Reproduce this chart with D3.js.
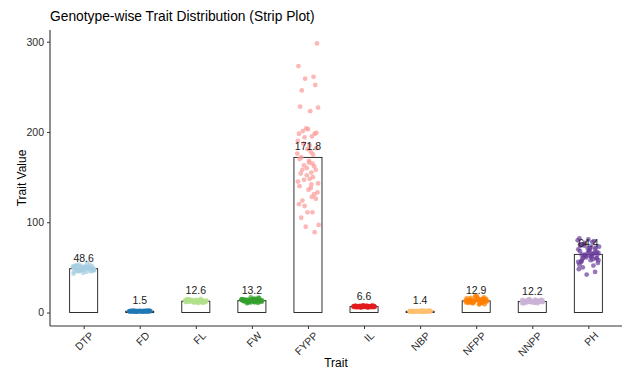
<!DOCTYPE html>
<html>
<head>
<meta charset="utf-8">
<script src="https://cdn.jsdelivr.net/npm/d3@7"></script>
<style>
  html, body { margin: 0; padding: 0; background: #fff; }
  svg { display: block; font-family: "Liberation Sans", Arial, sans-serif; }
</style>
</head>
<body>
<svg id="chart" width="623" height="371"></svg>
<script>
// ---- data ----
const traits = ["DTP", "FD", "FL", "FW", "FYPP", "IL", "NBP", "NFPP", "NNPP", "PH"];
const traitMeans = [48.6, 1.5, 12.6, 13.2, 171.8, 6.6, 1.4, 12.9, 12.2, 64.4];
const traitColors = ["#a6cee3", "#1f78b4", "#b2df8a", "#33a02c", "#fb9a99",
                     "#e31a1c", "#fdbf6f", "#ff7f00", "#cab2d6", "#6a3d9a"];

const dtpValues = [47, 49, 51, 46, 50, 48, 52, 45, 49, 47, 53, 50, 48, 46, 51, 49, 44, 50, 52, 47, 48, 49, 51, 46,
                   50, 48, 55, 47, 49, 45, 50, 52, 48, 46, 49, 51, 47, 50, 48, 53, 46, 49, 50, 47, 51, 43, 48, 50];
const fdValues = [1.4, 1.6, 1.2, 1.8, 1.5, 1.3, 1.7, 1.5, 1.1, 1.9, 1.4, 1.6, 1.5, 1.2, 1.8, 1.3, 1.6, 1.4, 1.7, 1.5,
                  1.0, 2.0, 1.5, 1.4, 1.6, 1.3, 1.7, 1.5, 1.2, 1.8, 1.4, 1.6, 1.5, 1.3, 1.7, 1.5, 1.1, 1.9, 1.4, 1.6,
                  1.5, 1.2, 1.8, 1.4, 1.6, 1.5, 1.3, 1.7];
const flValues = [12.5, 13.1, 11.8, 14.0, 12.2, 13.5, 11.2, 12.9, 13.8, 12.0, 11.5, 14.5, 12.7, 13.0, 12.3, 11.9,
                  13.6, 12.4, 10.8, 14.2, 12.8, 13.3, 11.6, 12.1, 13.9, 12.6, 11.0, 14.8, 12.5, 13.2, 12.0, 11.7,
                  13.4, 12.9, 10.5, 15.2, 12.3, 13.7, 11.4, 12.6, 14.1, 12.2, 11.8, 13.0, 12.7, 13.5, 11.3, 12.8];
const fwValues = [13.0, 14.1, 12.2, 15.0, 12.8, 13.9, 11.5, 13.4, 14.6, 12.5, 11.0, 15.8, 13.2, 13.7, 12.9, 12.0,
                  14.3, 13.1, 10.2, 16.4, 13.5, 14.0, 12.3, 12.7, 14.8, 13.3, 11.3, 15.5, 13.0, 13.8, 12.6, 12.1,
                  14.4, 13.6, 10.6, 16.9, 12.9, 14.2, 11.8, 13.2, 15.1, 12.4, 11.7, 13.9, 13.4, 14.5, 11.4, 13.1];
const fyppValues = [298, 273, 261, 259, 252, 246, 223, 228, 227, 204, 203, 201, 198, 198, 195, 194, 199, 190, 185, 181,
                    178, 175, 172, 170, 168, 165, 163, 162, 160, 158, 158, 155, 152, 150, 148, 147, 145, 143, 140, 138,
                    136, 133, 131, 128, 126, 124, 120, 118, 111, 111, 105, 97, 95, 89, 176, 182, 166, 154, 142, 187];
const ilValues = [6.5, 7.0, 6.2, 7.4, 6.8, 6.0, 7.2, 6.6, 5.6, 7.8, 6.4, 6.9, 6.3, 7.1, 6.7, 5.8, 7.5, 6.5, 6.1, 7.3,
                  6.9, 6.2, 7.0, 6.6, 5.4, 8.0, 6.4, 6.8, 6.3, 7.2, 6.7, 5.9, 7.6, 6.5, 6.0, 7.1, 6.8, 6.3, 6.9, 6.6,
                  5.7, 7.7, 6.4, 6.8, 6.2, 7.0, 6.6, 6.5];
const nbpValues = [1.4, 1.6, 1.2, 1.8, 1.3, 1.5, 1.1, 1.7, 1.4, 1.0, 2.0, 1.3, 1.5, 1.6, 1.2, 1.4, 0.8, 2.2, 1.5, 1.3,
                   1.7, 1.4, 1.1, 1.6, 1.3, 1.5, 0.9, 2.1, 1.4, 1.2, 1.8, 1.5, 1.3, 1.6, 1.4, 1.0, 1.9, 1.4, 1.3, 1.5,
                   1.2, 1.7, 1.4, 1.1, 1.6, 1.3, 1.5, 1.4];
const nfppValues = [12.8, 14.2, 11.5, 15.6, 12.1, 13.6, 10.4, 13.1, 16.8, 11.9, 9.6, 17.9, 12.5, 14.0, 12.9, 11.2,
                    15.0, 12.7, 8.8, 18.6, 13.3, 14.5, 11.0, 12.3, 16.1, 13.0, 10.1, 17.2, 12.6, 13.8, 12.2, 11.6,
                    15.3, 13.4, 9.2, 16.5, 12.4, 14.7, 10.8, 13.2, 15.8, 12.0, 11.3, 14.1, 12.9, 13.7, 10.7, 12.8];
const nnppValues = [12.1, 12.8, 11.4, 13.6, 11.9, 13.0, 10.8, 12.5, 13.9, 11.6, 10.4, 14.4, 12.2, 12.9, 12.0, 11.3,
                    13.3, 12.4, 10.1, 14.8, 12.6, 13.1, 11.1, 11.8, 13.7, 12.3, 10.6, 14.1, 12.0, 12.7, 11.7, 11.5,
                    13.4, 12.5, 10.2, 14.6, 11.9, 13.2, 11.0, 12.2, 13.8, 11.6, 11.2, 12.9, 12.4, 13.0, 10.9, 12.1];
const phValues = [64, 70, 58, 75, 62, 68, 55, 66, 78, 60, 50, 82, 63, 71, 65, 57, 73, 61, 45, 80, 67, 69, 56, 62,
                  76, 64, 48, 79, 63, 72, 59, 58, 74, 66, 42, 81, 61, 70, 53, 65, 77, 60, 56, 71, 66, 73, 52, 64,
                  68, 63, 59, 74];
const traitValues = [dtpValues, fdValues, flValues, fwValues, fyppValues, ilValues, nbpValues, nfppValues, nnppValues, phValues];

// jitter offsets in band-step units (±0.2), shared by all traits
const jitterOffsets = [-0.02, 0.09, 0.03, -0.07, -0.18, 0.18, -0.15, 0.05, 0.01, 0.17, 0.11, 0.07, 0.14, -0.10, -0.16,
                       -0.06, -0.01, 0.08, -0.12, 0.19, -0.04, 0.12, -0.19, 0.15, 0.02, -0.13, 0.06, -0.08, 0.16, -0.17,
                       0.10, -0.05, 0.13, -0.11, 0.04, -0.14, 0.18, -0.03, 0.00, -0.09, 0.12, -0.16, 0.07, -0.06, 0.15,
                       -0.18, 0.03, -0.01, 0.05, 0.09, -0.12, -0.15, 0.02, 0.08, -0.07, 0.11, -0.02, 0.14, -0.10, 0.06];

const yTicks = [0, 100, 200, 300];

// ---- layout ----
const svg = d3.select("#chart");
const panel = { left: 50, right: 622, top: 30, bottom: 326 };

const x = d3.scalePoint()
  .domain(traits)
  .range([panel.left, panel.right])
  .padding(0.6);

const y = d3.scaleLinear()
  .domain([-14.9, 312.9])
  .range([panel.bottom, panel.top]);

const step = x.step();
const barW = step * 0.5;

// title
svg.append("text")
  .attr("x", 50)
  .attr("y", 21)
  .attr("font-size", 13.8)
  .attr("fill", "#000")
  .text("Genotype-wise Trait Distribution (Strip Plot)");

// mean bars (outline only)
svg.append("g").selectAll("rect")
  .data(traits)
  .join("rect")
  .attr("x", (d) => x(d) - barW / 2)
  .attr("y", (d, i) => y(traitMeans[i]))
  .attr("width", barW)
  .attr("height", (d, i) => y(0) - y(traitMeans[i]))
  .attr("fill", "none")
  .attr("stroke", "#1a1a1a")
  .attr("stroke-width", 0.9);

// jittered points
const pts = [];
traits.forEach((t, k) => {
  traitValues[k].forEach((v, i) => {
    pts.push({ trait: t, k, v, j: jitterOffsets[(i + k * 7) % jitterOffsets.length] });
  });
});

svg.append("g").selectAll("circle")
  .data(pts)
  .join("circle")
  .attr("cx", (d) => x(d.trait) + d.j * step)
  .attr("cy", (d) => y(d.v))
  .attr("r", 2.4)
  .attr("fill", (d) => traitColors[d.k])
  .attr("fill-opacity", 0.7);

// mean labels
svg.append("g").selectAll("text")
  .data(traits)
  .join("text")
  .attr("x", (d) => x(d))
  .attr("y", (d, i) => y(traitMeans[i]) - 7)
  .attr("text-anchor", "middle")
  .attr("font-size", 10.5)
  .attr("fill", "#1a1a1a")
  .text((d, i) => traitMeans[i].toFixed(1));

// y axis
const yAxis = svg.append("g")
  .attr("transform", `translate(${panel.left},0)`)
  .call(d3.axisLeft(y).tickValues(yTicks).tickSize(3).tickPadding(3));
yAxis.select(".domain").attr("d", `M0,${panel.top}V${panel.bottom}`);

// x axis
const xAxis = svg.append("g")
  .attr("transform", `translate(0,${panel.bottom})`)
  .call(d3.axisBottom(x).tickSize(3).tickPadding(3));
xAxis.select(".domain").attr("d", `M${panel.left},0H${panel.right}`);
xAxis.selectAll(".tick text")
  .attr("text-anchor", "end")
  .attr("dy", null)
  .attr("transform", "translate(6,6) rotate(-45)");

svg.selectAll(".domain").attr("stroke", "#333").attr("stroke-width", 1.1);
svg.selectAll(".tick line").attr("stroke", "#333");
svg.selectAll(".tick text").attr("font-size", 10.5).attr("fill", "#2b2b2b")
  .attr("font-family", "Liberation Sans, Arial, sans-serif");

// axis titles
svg.append("text")
  .attr("x", (panel.left + panel.right) / 2)
  .attr("y", 367)
  .attr("text-anchor", "middle")
  .attr("font-size", 12)
  .text("Trait");

svg.append("text")
  .attr("transform", `translate(26,${(panel.top + panel.bottom) / 2}) rotate(-90)`)
  .attr("text-anchor", "middle")
  .attr("font-size", 12)
  .text("Trait Value");
</script>
</body>
</html>
